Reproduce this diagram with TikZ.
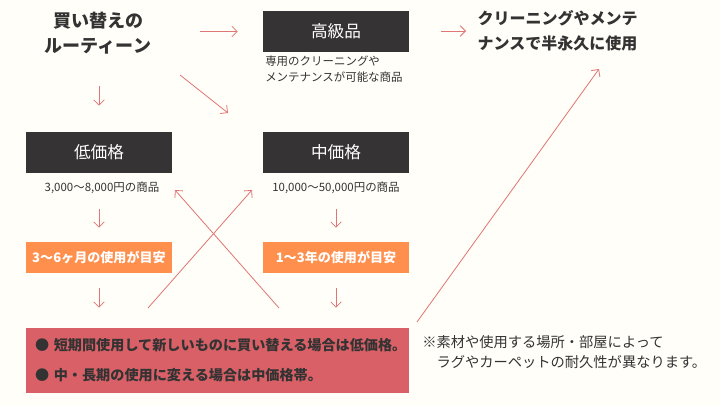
\documentclass[tikz,border=0pt]{standalone}
\usepackage{fontspec}
\setmainfont{Noto Sans CJK JP}
\usetikzlibrary{arrows.meta, positioning}
\definecolor{haikei}{HTML}{FFFEF8}
\definecolor{sumi}{HTML}{363334}
\definecolor{daidai}{HTML}{FF8F4C}
\definecolor{aka}{HTML}{D96066}
\definecolor{yajirushi}{HTML}{E07575}
\definecolor{moji}{HTML}{333333}

\begin{document}
\begin{tikzpicture}[
    x=0.75pt, y=-0.75pt,
    midashi/.style={
        align=center,
        text=moji,
        font=\bfseries\fontsize{13.5}{19}\selectfont
    },
    hako/.style={
        rectangle,
        fill=sumi,
        text=white,
        minimum width=109.5pt,
        minimum height=30.75pt,
        font=\fontsize{12.5}{15}\selectfont
    },
    meyasu/.style={
        rectangle,
        fill=daidai,
        text=white,
        minimum width=109.5pt,
        minimum height=23.25pt,
        font=\bfseries\fontsize{9.8}{11}\selectfont
    },
    setsumei/.style={
        inner sep=0pt,
        align=left,
        text=moji,
        font=\fontsize{8.6}{12}\selectfont
    },
    matome/.style={
        rectangle,
        fill=aka,
        text=moji,
        inner xsep=6.75pt,
        text width=273.75pt,
        minimum height=48.75pt,
        align=left,
        font=\bfseries\fontsize{10.6}{22.5}\selectfont
    },
    arrow/.style={
        draw=yajirushi,
        line width=0.6pt,
        -{Straight Barb[length=4pt, width=8pt]}
    }
]

\fill[haikei] (0,0) rectangle (720,406);
\useasboundingbox (0,0) rectangle (720,406);

% top row
\node[midashi] (title) at (98,33) {買い替えの\\ルーティーン};
\node[hako] (high) at (336,31.5) {高級品};
\node[setsumei, anchor=north west] (highcap) at (265,56) {専用のクリーニングや\\メンテナンスが可能な商品};
\node[midashi, align=left, anchor=west, font=\bfseries\fontsize{12}{19}\selectfont] (forever) at (473,31) {クリーニングやメンテ\\ナンスで半永久に使用};

% price boxes
\node[hako] (low) at (99,152.5) {低価格};
\node[hako] (mid) at (336,152.5) {中価格};
\node[setsumei] (lowcap) at (102,188) {3,000〜8,000円の商品};
\node[setsumei] (midcap) at (336,188) {10,000〜50,000円の商品};
\node[meyasu] (lowuse) at (99,257.5) {3〜6ヶ月の使用が目安};
\node[meyasu] (miduse) at (336,257.5) {1〜3年の使用が目安};

% bottom
\node[matome] (summary) at (217.5,360.5) {● 短期間使用して新しいものに買い替える場合は低価格。\\● 中・長期の使用に変える場合は中価格帯。};
\node[setsumei, anchor=north west, font=\fontsize{10.7}{15}\selectfont] (note) at (422,335) {※素材や使用する場所・部屋によって\\　ラグやカーペットの耐久性が異なります。};

% free ends of the slanted arrows
\coordinate (nanameA) at (180,75);
\coordinate (nanameB) at (228,113);
\coordinate (kosaA) at (148,308);
\coordinate (kosaB) at (252,190);
\coordinate (kosaC) at (279,308);
\coordinate (kosaD) at (175,190);
\coordinate (nagaA) at (417,322);
\coordinate (nagaB) at (599,69);

\draw[arrow, shorten <=33pt, shorten >=18.75pt] (title.east |- high.west) -- (high.west);
\draw[arrow, shorten <=24pt, shorten >=5.25pt] (high.east |- forever.west) -- (forever.west);
\draw[arrow, shorten <=20.5pt, shorten >=19.5pt] (title.south -| low.north) -- (low.north);
\draw[arrow] (nanameA) -- (nanameB);

\draw[arrow, shorten <=11.25pt, shorten >=10.5pt] (lowcap.south -| lowuse.north) -- (lowuse.north);
\draw[arrow, shorten <=11.25pt, shorten >=10.5pt] (midcap.south -| miduse.north) -- (miduse.north);
\draw[arrow, shorten <=11.25pt, shorten >=15pt] (lowuse.south) -- (lowuse.south |- summary.north);
\draw[arrow, shorten <=11.25pt, shorten >=15pt] (miduse.south) -- (miduse.south |- summary.north);

\draw[arrow] (kosaA) -- (kosaB);
\draw[arrow] (kosaC) -- (kosaD);
\draw[arrow] (nagaA) -- (nagaB);

\end{tikzpicture}
\end{document}
